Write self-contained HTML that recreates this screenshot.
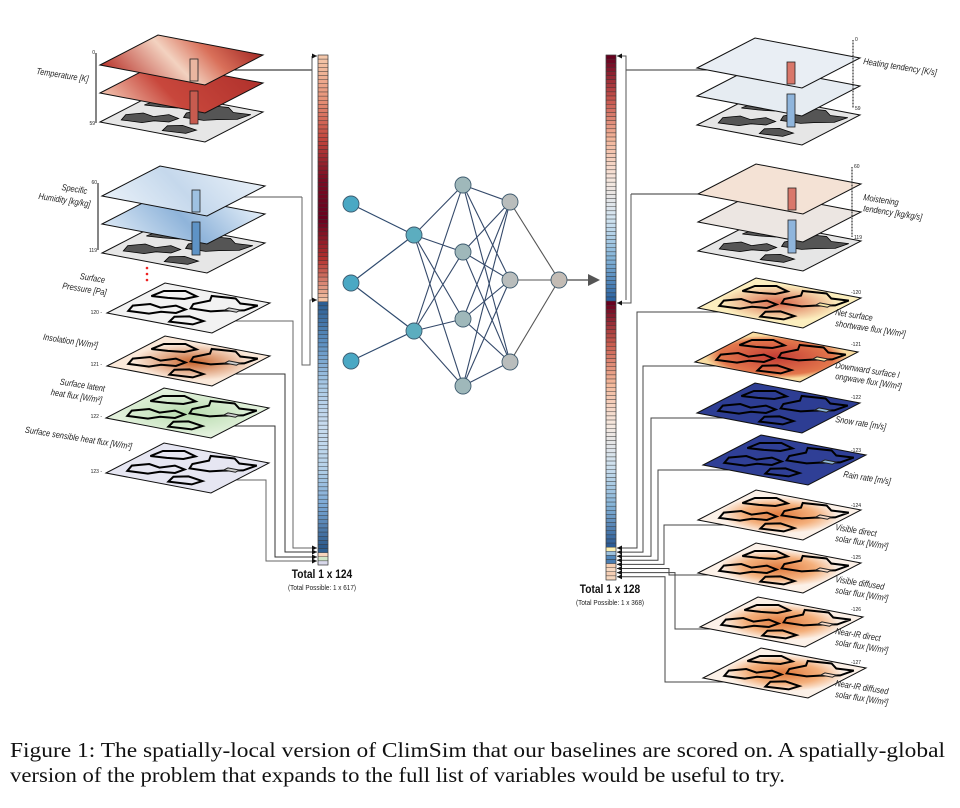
<!DOCTYPE html>
<html><head><meta charset="utf-8">
<style>
html,body{margin:0;padding:0;background:#fff;}
#wrap{position:relative;width:960px;height:808px;overflow:hidden;}
svg text{font-family:"Liberation Sans Narrow","Liberation Sans",sans-serif;}
.lbl{font-size:9px;font-style:italic;fill:#222;}
.num{font-size:5px;fill:#222;}
#caption{position:absolute;left:10px;top:738px;font-family:"Liberation Serif",serif;font-size:21px;line-height:25px;color:#111;}
#caption div{white-space:nowrap;transform-origin:0 0;}
</style></head>
<body>
<div id="wrap">
<svg id="fig" width="960" height="740" viewBox="0 0 960 740" xmlns="http://www.w3.org/2000/svg">
<defs>
<marker id="ah" markerWidth="6" markerHeight="6" refX="5" refY="3" orient="auto"><path d="M0,0.5 L5,3 L0,5.5 z" fill="#111"/></marker>
<linearGradient id="gTemp" x1="0" y1="0" x2="1" y2="1"><stop offset="0" stop-color="#b8342c"/><stop offset="0.45" stop-color="#f3d2c0"/><stop offset="0.7" stop-color="#d9705a"/><stop offset="1" stop-color="#a52a26"/></linearGradient>
<linearGradient id="gTemp2" x1="0" y1="0" x2="1" y2="1"><stop offset="0" stop-color="#f2c4b0"/><stop offset="0.4" stop-color="#c8473c"/><stop offset="1" stop-color="#b0312c"/></linearGradient>
<linearGradient id="gHum" x1="0" y1="0" x2="1" y2="1"><stop offset="0" stop-color="#e8f0f8"/><stop offset="0.5" stop-color="#c5d8ec"/><stop offset="1" stop-color="#e8f0f8"/></linearGradient>
<linearGradient id="gHum2" x1="0" y1="0" x2="1" y2="1"><stop offset="0" stop-color="#dbe8f5"/><stop offset="0.5" stop-color="#8fb4da"/><stop offset="1" stop-color="#e4eef8"/></linearGradient>
<radialGradient id="gIns" cx="0.5" cy="0.55" r="0.5"><stop offset="0" stop-color="#c7622a"/><stop offset="1" stop-color="#fbe9da"/></radialGradient>
<radialGradient id="gSW" cx="0.5" cy="0.5" r="0.5"><stop offset="0" stop-color="#d8664a"/><stop offset="1" stop-color="#fcefbf"/></radialGradient>
<radialGradient id="gLW" cx="0.5" cy="0.5" r="0.6"><stop offset="0" stop-color="#c43c35"/><stop offset="0.8" stop-color="#e3774c"/><stop offset="1" stop-color="#f9dca0"/></radialGradient>
<radialGradient id="gSol" cx="0.5" cy="0.5" r="0.5"><stop offset="0" stop-color="#e07a3e"/><stop offset="0.6" stop-color="#f4b07c"/><stop offset="1" stop-color="#fcf1e8"/></radialGradient>
<radialGradient id="gLat" cx="0.5" cy="0.5" r="0.6"><stop offset="0" stop-color="#b8dcae"/><stop offset="1" stop-color="#e2f1dc"/></radialGradient>
</defs>
<g id="lines"></g>
<g id="maps"></g>
<g id="bars"></g>
<g id="net"></g>
<g id="texts"></g>
</svg>
<div id="caption"><div id="cap1">Figure 1: The spatially-local version of ClimSim that our baselines are scored on. A spatially-global</div><div id="cap2">version of the problem that expands to the full list of variables would be useful to try.</div></div>
</div>
<script>
const NS="http://www.w3.org/2000/svg";
function mk(parent,tag,attrs,name){const e=document.createElementNS(NS,tag);for(const k in attrs)e.setAttribute(k,attrs[k]);


document.getElementById(parent).appendChild(e);return e;}

// ---- colour bar data ----
const leftBarColors=[];
const rightBarColors=[];
function lerp(a,b,t){const pa=[1,3,5].map(i=>parseInt(a.substr(i,2),16)),pb=[1,3,5].map(i=>parseInt(b.substr(i,2),16));return 'rgb('+pa.map((v,i)=>Math.round(v+(pb[i]-v)*t)).join(',')+')';}
function ramp(arr,stops,n){for(let i=0;i<n;i++){const t=i/(n-1)*(stops.length-1);const k=Math.min(Math.floor(t),stops.length-2);arr.push(lerp(stops[k],stops[k+1],t-k));}}
const leftTempStops=["#f4c7aa","#e8957a","#c4473e","#7a0c22","#67001f","#b3322f","#f4c3a5"];
const leftHumStops=["#2e5f93","#5f91c2","#a9c9e6","#c9dcef","#b7d3ea","#7aa7d4","#2c5a8c"];
const leftSurfColors=["#2d5f92","#f7d5bd","#cfe6c8","#d8d8ea"];
const rightHeatStops=["#67001f","#c4504a","#f2b398","#f7e6dc","#d2e4f1","#83b3d8","#2d64a2"];
const rightMoistStops=["#67001f","#c85b4e","#f4b89b","#f6e8df","#cfe1ef","#86b4d8","#2c5b95"];
const rightSurfColors=["#fbeeb0","#9dc1dd","#5388bb","#4a7db2","#f6cfb3","#f7d9c2","#f5ceb4","#f6d7bf"];
ramp(leftBarColors,leftTempStops,60);ramp(leftBarColors,leftHumStops,60);leftSurfColors.forEach(c=>leftBarColors.push(c));
ramp(rightBarColors,rightHeatStops,60);ramp(rightBarColors,rightMoistStops,60);rightSurfColors.forEach(c=>rightBarColors.push(c));

function drawBar(colors,x,y0,y1,name){
  const h=(y1-y0)/colors.length;
  colors.forEach((c,i)=>{
    mk('bars','rect',{x:x,y:y0+i*h,width:10,height:h,fill:c,stroke:'#333','stroke-width':0.4},name+'-cell');
  });
  mk('bars','rect',{x:x,y:y0,width:10,height:y1-y0,fill:'none',stroke:'#444','stroke-width':0.6},name+'-outline');
}
drawBar(leftBarColors,318,55,565,'input-vector');
drawBar(rightBarColors,606,55,580,'output-vector');

// ---- maps ----
const SH=[58,-30,105,20];
const continent="M0.15,0.12 L0.3,0.08 L0.42,0.18 L0.38,0.3 L0.5,0.38 L0.45,0.5 L0.32,0.48 L0.28,0.36 L0.18,0.3 Z M0.5,0.52 L0.62,0.48 L0.78,0.55 L0.9,0.5 L0.95,0.7 L0.85,0.8 L0.88,0.95 L0.7,0.92 L0.6,0.78 L0.52,0.7 Z M0.08,0.55 L0.22,0.52 L0.3,0.62 L0.25,0.78 L0.12,0.75 Z M0.62,0.08 L0.8,0.1 L0.9,0.25 L0.82,0.4 L0.7,0.35 L0.65,0.22 Z";
function mapLayer(L,fill,name,opt){
  opt=opt||{};
  const g=mk('maps','g',{transform:`matrix(${SH[0]},${SH[1]},${SH[2]},${SH[3]},${L[0]},${L[1]})`},name);
  const p=document.createElementNS(NS,'rect');p.setAttribute('x',0);p.setAttribute('y',0);p.setAttribute('width',1);p.setAttribute('height',1);
  p.setAttribute('fill',fill);p.setAttribute('stroke','#111');p.setAttribute('stroke-width',1);p.setAttribute('vector-effect','non-scaling-stroke');
  
  
  g.appendChild(p);
  if(opt.cont){const c=document.createElementNS(NS,'path');c.setAttribute('d',continent);
    c.setAttribute('fill',opt.cont==='fill'?'#555':'none');c.setAttribute('stroke','#000');c.setAttribute('stroke-width',opt.cont==='fill'?0.8:2);c.setAttribute('vector-effect','non-scaling-stroke');
    
    
    g.appendChild(c);}
  if(opt.box){const b=document.createElementNS(NS,'rect');b.setAttribute('x',0.62);b.setAttribute('y',0.78);b.setAttribute('width',0.07);b.setAttribute('height',0.11);
    b.setAttribute('fill',opt.box);b.setAttribute('stroke','#222');b.setAttribute('stroke-width',1);b.setAttribute('vector-effect','non-scaling-stroke');
    
    
    g.appendChild(b);}
  return g;
}
function stack(L,fills,name,colcol){
  mapLayer([L[0],L[1]+57],'#e6e6e6',name+'-base',{cont:'fill'});
  mapLayer([L[0],L[1]+28],fills[1],name+'-layer2');
  mapLayer(L,fills[0],name+'-layer1');
  mk('maps','rect',{x:L[0]+90,y:L[1]+26,width:8,height:33,fill:colcol[1],stroke:'#222','stroke-width':0.8},name+'-column-lower');
  mk('maps','rect',{x:L[0]+90,y:L[1]-6,width:8,height:22,fill:colcol[0],stroke:'#222','stroke-width':0.8},name+'-column-upper');
}
stack([100,65],['url(#gTemp)','url(#gTemp2)'],'temperature-map',['#eab6a0','#c75b4f']);
stack([102,196],['url(#gHum)','url(#gHum2)'],'humidity-map',['#9ec1e1','#5e93c6']);
stack([697,68],['#e9eef4','#e6ecf2'],'heating-map',['#d9776a','#8fb5dc']);
stack([698,194],['#f4e2d5','#ece6e2'],'moistening-map',['#d9776a','#8fb5dc']);

const leftSurf=[[107,313,'#f2f2f2','pressure-map'],[107,366,'url(#gIns)','insolation-map'],[106,418,'url(#gLat)','latent-heat-map'],[106,473,'#e6e6f2','sensible-heat-map']];
leftSurf.forEach(s=>mapLayer([s[0],s[1]],s[2],s[3],{cont:'line',box:'#ccc'}));
const rightSurf=[[698,308,'url(#gSW)','net-shortwave-map','#f8e7a8'],[695,362,'url(#gLW)','longwave-map','#f8e7a8'],[697,413,'#2d3d93','snow-rate-map','#8fb8d8'],[703,465,'#2f3f96','rain-rate-map','#8fb8d8'],
 [698,520,'url(#gSol)','visible-direct-map','#f5d8c4'],[698,573,'url(#gSol)','visible-diffused-map','#f5d8c4'],[700,627,'url(#gSol)','nearir-direct-map','#f5d8c4'],[703,678,'url(#gSol)','nearir-diffused-map','#f5d8c4']];
rightSurf.forEach(s=>mapLayer([s[0],s[1]],s[2],s[3],{cont:'line',box:s[4]}));

// ---- connector lines ----
function pl(pts,name,arrow,col){const a={points:pts.map(p=>p.join(',')).join(' '),fill:'none',stroke:col||'#333','stroke-width':1};if(arrow)a['marker-end']='url(#ah)';return mk('lines','polyline',a,name);}
pl([[312,70],[200,70]],'temp-connector',true,'#111');
pl([[312,56],[312,300],[317,300]],'temp-bracket',false,'#555');
pl([[312,56],[317,56]],'temp-bracket-top',true,'#555');
pl([[302,197],[200,197]],'humidity-connector',true,'#555');
pl([[302,197],[302,365],[310,365],[310,300],[317,300]],'humidity-bracket',true,'#666');
pl([[192,321],[293,321],[293,548],[317,548]],'pressure-connector',true,'#666');
pl([[192,374],[285,374],[285,552],[317,552]],'insolation-connector',true,'#333');
pl([[192,426],[275,426],[275,557],[317,557]],'latent-connector',true,'#333');
pl([[192,480],[266,480],[266,561],[317,561]],'sensible-connector',true,'#666');
pl([[626,70],[780,70]],'heating-connector',true,'#333');
pl([[626,300],[626,56],[617,56]],'heating-bracket',true,'#555');
pl([[631,194],[780,194]],'moistening-connector',true,'#333');
pl([[631,194],[631,303],[617,303]],'moistening-bracket',true,'#555');
const rx=[637,643,651,658,664,669,675,665];
const ry=[312,366,418,470,525,575,629,682];
rx.forEach((x,i)=>{pl([[790,ry[i]],[x,ry[i]],[x,548+i*4.1],[617,548+i*4.1]],'output-connector-'+i,true,'#444');});

// ---- neural net ----
const layers=[[[351,204],[351,283],[351,361]],[[414,235],[414,331]],[[463,185],[463,252],[463,319],[463,386]],[[510,202],[510,280],[510,362]],[[559,280]]];
const nodeFill=['#4aa8c4','#5cadbf','#9fb8ba','#b9bdbc','#c3bcb5'];
const edges=[[0,0],[1,0],[1,1],[2,1]];
edges.forEach(e=>mk('net','line',{x1:layers[0][e[0]][0],y1:layers[0][e[0]][1],x2:layers[1][e[1]][0],y2:layers[1][e[1]][1],stroke:'#2e4a6e','stroke-width':1.2},'nn-edge'));
for(let l=1;l<4;l++)layers[l].forEach(a=>layers[l+1].forEach(b=>mk('net','line',{x1:a[0],y1:a[1],x2:b[0],y2:b[1],stroke:l===3?'#555':'#34496a','stroke-width':1.1},'nn-edge')));
layers.forEach((ly,i)=>ly.forEach(p=>mk('net','circle',{cx:p[0],cy:p[1],r:8,fill:nodeFill[i],stroke:'#3d5a6e','stroke-width':0.9},'nn-node')));
mk('net','line',{x1:567,y1:280,x2:590,y2:280,stroke:'#666','stroke-width':1.5},'nn-output-arrow');
mk('net','path',{d:'M588,274 L600,280 L588,286 Z',fill:'#555'},'nn-output-arrowhead');

[268,274,280].forEach(y=>mk('texts','circle',{cx:147,cy:y,r:1.3,fill:'#e22'},'ellipsis-dot'));

function scale(x,y0,y1,a,b,name){mk('texts','line',{x1:x,y1:y0,x2:x,y2:y1,stroke:'#333','stroke-width':1.2},name);
 mk('texts','text',{x:x-1,y:y0+1,class:'num','text-anchor':'end'},name+'-top').textContent=a;
 mk('texts','text',{x:x-1,y:y1+2,class:'num','text-anchor':'end'},name+'-bottom').textContent=b;}
scale(96,53,123,'0','59','temperature-levels');
scale(98,183,250,'60','119','humidity-levels');
function rscale(x,y0,y1,a,b,name){mk('texts','line',{x1:x,y1:y0,x2:x,y2:y1,stroke:'#333','stroke-width':1.2,'stroke-dasharray':'1,0.5'},name);
 mk('texts','text',{x:x+2,y:y0+1,class:'num'},name+'-top').textContent=a;
 mk('texts','text',{x:x+2,y:y1+2,class:'num'},name+'-bottom').textContent=b;}
rscale(853,40,108,'0','59','heating-levels');
rscale(852,167,237,'60','119','moistening-levels');

function lab(x,y,s,name,anchor){const t=mk('texts','text',{x:0,y:0,class:'lbl','text-anchor':anchor||'middle',transform:`translate(${x} ${y}) rotate(9) scale(0.82 1)`},name);t.textContent=s;}
lab(62,78,'Temperature [K]','temperature-label');
lab(74,192,'Specific','humidity-label-1');lab(64,203,'Humidity [kg/kg]','humidity-label-2');
lab(92,281,'Surface','pressure-label-1');lab(84,292,'Pressure [Pa]','pressure-label-2');
lab(70,344,'Insolation [W/m²]','insolation-label');
lab(82,388,'Surface latent','latent-label-1');lab(76,399,'heat flux [W/m²]','latent-label-2');
lab(78,441,'Surface sensible heat flux [W/m²]','sensible-label');
lab(863,64,'Heating tendency [K/s]','heating-label','start');
lab(863,200,'Moistening','moistening-label-1','start');lab(863,211,'tendency [kg/kg/s]','moistening-label-2','start');
const rl=[['Net surface','shortwave flux [W/m²]'],['Downward surface l','ongwave flux [W/m²]'],['Snow rate [m/s]'],['Rain rate [m/s]'],['Visible direct','solar flux [W/m²]'],['Visible diffused','solar flux [W/m²]'],['Near-IR direct','solar flux [W/m²]'],['Near-IR diffused','solar flux [W/m²]']];
const rly=[315,368,422,477,530,582,634,686];
rl.forEach((r,i)=>{r.forEach((s,j)=>lab(i===3?843:835,rly[i]+j*11,s,'output-label-'+(120+i),'start'));
  mk('texts','text',{x:851,y:[294,346,399,452,507,559,611,664][i],class:'num'},'index-'+(120+i)).textContent='-'+(120+i);});
const li=[314,366,418,473];
li.forEach((y,i)=>mk('texts','text',{x:102,y:y,class:'num','text-anchor':'end'},'index-'+(120+i)).textContent=(120+i)+' -');

let t=mk('texts','text',{x:0,y:0,'text-anchor':'middle','font-size':12,'font-weight':'bold',fill:'#111',transform:'translate(322 578) scale(0.85 1)'},'input-total');t.textContent='Total 1 x 124';
t=mk('texts','text',{x:0,y:0,'text-anchor':'middle','font-size':7.5,fill:'#222',transform:'translate(322 590) scale(0.85 1)'},'input-total-possible');t.textContent='(Total Possible: 1 x 617)';
t=mk('texts','text',{x:0,y:0,'text-anchor':'middle','font-size':12,'font-weight':'bold',fill:'#111',transform:'translate(610 593) scale(0.85 1)'},'output-total');t.textContent='Total 1 x 128';
t=mk('texts','text',{x:0,y:0,'text-anchor':'middle','font-size':7.5,fill:'#222',transform:'translate(610 605) scale(0.85 1)'},'output-total-possible');t.textContent='(Total Possible: 1 x 368)';

// fit caption lines
[['cap1',935],['cap2',775]].forEach(p=>{const d=document.getElementById(p[0]);d.style.display='inline-block';const w=d.getBoundingClientRect().width;d.style.display='block';d.style.transform='scaleX('+(p[1]/w)+')';});
</script>
</body></html>
